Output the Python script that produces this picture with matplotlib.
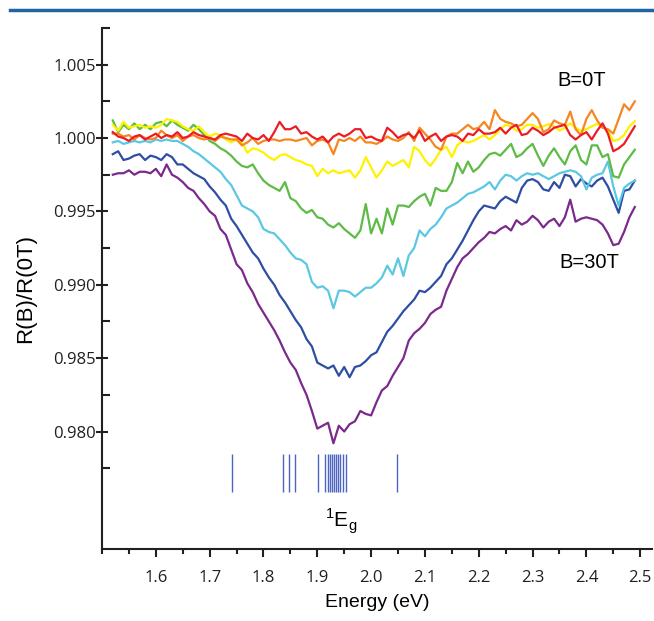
import matplotlib
matplotlib.use("Agg")
import matplotlib.pyplot as plt
from matplotlib.lines import Line2D
from matplotlib.ticker import FixedLocator
import numpy as np

plt.rcParams['mathtext.fontset'] = 'custom'
plt.rcParams['mathtext.rm'] = 'Liberation Sans'

energy = np.round(np.arange(1.52, 2.495, 0.01), 2)

# R(B)/R(0T) - 1, in units of 1e-3
dev_red = [0.4, 0.1, 0.0, -0.2, 0.1, 0.2, -0.1, 0.1, 0.3, 0.0,
           0.2, 0.1, 0.4, 0.0, 0.1, 0.4, 0.2, 0.1, 0.0, -0.1,
           0.2, 0.3, 0.2, 0.1, -0.2, 0.3, 0.0, -0.1, 0.2, -0.2,
           0.4, 1.1, 0.6, 0.6, 0.8, 0.3, 0.4, 0.1, -0.1, 0.1,
           -0.3, 0.1, 0.3, 0.1, 0.3, 0.6, 0.6, 0.0, 0.1, -0.1,
           -0.2, 0.7, 0.4, 0.0, 0.2, 0.3, 0.0, 0.5, -0.2, 0.1,
           0.3, -0.2, 0.1, 0.2, 0.1, -0.2, 0.3, 0.2, 0.6, 0.3,
           0.3, 0.4, 0.7, 0.3, 0.7, 0.9, 0.2, 0.3, 0.7, 0.5,
           0.2, 0.4, 0.7, 0.8, 0.9, 0.2, -0.1, 0.2, 0.4, -0.1,
           0.5, 1.0, 0.3, -0.9, -0.7, -0.4, 0.2, 0.8]
dev_orange = [0.3, 0.3, 0.1, 0.2, -0.1, 0.2, 0.0, -0.1, 0.0, 0.5,
              0.2, 0.0, 0.2, -0.2, 0.1, 0.2, 0.0, -0.1, 0.0, -0.2,
              0.1, 0.0, -0.1, -0.1, -0.5, -0.3, 0.0, -0.4, -0.2, -0.1,
              -0.1, -0.2, -0.1, -0.1, -0.2, -0.1, 0.0, -0.5, -0.2, -0.1,
              -0.3, -1.1, -0.1, -0.2, 0.0, -0.2, 0.1, -0.3, -0.3, -0.4,
              -0.2, 0.1, -0.1, -0.2, 0.0, 0.4, -0.2, 0.7, 0.3, -0.1,
              -0.6, -0.8, 0.1, 0.3, 0.3, 0.6, 0.9, 0.6, 0.7, 1.1,
              0.6, 1.9, 1.3, 1.1, 1.0, 0.8, 0.9, 1.3, 1.7, 1.3,
              0.4, 0.6, 1.2, 1.0, 0.9, 1.8, 0.6, 0.2, 1.3, 1.9,
              1.2, 0.7, 0.6, 0.3, 1.3, 2.3, 1.9, 2.5]
dev_yellow = [0.9, 0.5, 1.1, 0.7, 0.8, 0.9, 0.7, 0.8, 0.7, 0.9,
              1.3, 1.2, 1.1, 0.8, 0.6, 0.5, 0.8, 0.4, 0.1, 0.3,
              0.2, -0.1, -0.3, -0.1, -0.3, -1.0, -0.7, -0.8, -1.0, -1.3,
              -1.5, -1.2, -1.1, -1.3, -1.5, -1.6, -1.8, -1.9, -2.6, -2.1,
              -2.4, -2.2, -2.4, -2.3, -2.2, -2.7, -2.2, -1.3, -2.0, -2.7,
              -2.2, -1.6, -1.9, -1.7, -1.5, -2.0, -0.6, -0.9, -1.5, -1.9,
              -1.4, -0.8, -0.6, -1.3, -0.5, -0.2, -0.3, -0.2, 0.0, 0.2,
              -0.1, 0.2, 0.6, 0.9, 0.8, 0.5, 0.6, 0.9, 0.9, 0.7,
              0.8, 0.95, 0.8, 0.5, 0.7, 1.0, 0.7, 0.5, 0.6, 0.8,
              0.95, 0.8, 0.5, -0.2, -0.1, 0.2, 0.8, 1.15]
dev_green = [1.2, 0.4, 0.9, 0.6, 1.0, 0.6, 0.9, 0.6, 1.0, 1.1,
             0.8, 1.2, 0.9, 0.7, 0.5, 0.9, 0.6, 0.2, -0.2, -0.4,
             -0.7, -0.9, -1.2, -1.6, -1.9, -2.0, -1.8, -2.4, -2.9, -3.2,
             -3.4, -3.6, -3.0, -4.1, -4.3, -4.8, -5.1, -4.9, -5.4, -5.5,
             -5.9, -6.1, -5.8, -6.2, -6.5, -6.8, -6.3, -4.5, -6.5, -5.5,
             -6.5, -4.8, -5.9, -4.6, -4.6, -4.7, -4.3, -4.0, -3.8, -4.6,
             -3.4, -3.6, -3.6, -3.0, -1.7, -2.4, -1.6, -2.3, -2.0, -1.5,
             -1.1, -1.0, -1.2, -0.8, -0.4, -1.3, -1.1, -0.7, -0.4, -1.2,
             -1.9, -1.2, -0.7, -1.3, -1.8, -0.9, -0.5, -1.5, -1.8, -0.5,
             -0.5, -1.3, -1.1, -2.6, -2.7, -1.8, -1.3, -0.8]
dev_cyan = [-0.3, -0.2, -0.4, -0.3, -0.2, -0.3, -0.2, -0.3, -0.1, -0.2,
            -0.1, -0.2, -0.2, -0.4, -0.6, -0.9, -1.1, -1.4, -1.7, -2.0,
            -2.3, -2.8, -3.2, -3.9, -4.6, -4.8, -5.0, -5.4, -6.2, -6.4,
            -6.5, -6.9, -7.3, -7.8, -8.2, -8.3, -8.6, -9.8, -10.2, -10.1,
            -10.4, -11.6, -10.4, -10.4, -10.5, -10.8, -10.5, -10.2, -10.2, -9.9,
            -9.5, -8.7, -9.3, -8.2, -9.4, -8.0, -7.5, -6.3, -6.7, -6.2,
            -5.9, -5.4, -4.8, -4.6, -4.4, -4.1, -3.8, -3.7, -3.5, -3.3,
            -3.0, -3.5, -2.9, -2.5, -2.6, -2.9, -2.6, -2.4, -2.5, -2.4,
            -2.6, -2.8, -2.6, -2.4, -2.3, -2.2, -2.3, -2.6, -3.5, -2.7,
            -2.5, -2.4, -1.6, -3.3, -4.6, -3.4, -3.1, -2.9]
dev_blue = [-1.1, -0.9, -1.5, -1.4, -1.2, -1.1, -1.5, -1.2, -1.3, -1.5,
            -1.1, -1.3, -1.8, -1.8, -2.1, -2.4, -2.6, -2.8, -3.3, -3.7,
            -4.2, -4.6, -5.5, -6.0, -6.6, -7.2, -7.8, -8.2, -8.9, -9.5,
            -10.0, -10.7, -11.2, -11.8, -12.4, -12.9, -13.7, -14.2, -15.3, -15.5,
            -15.7, -15.5, -16.2, -15.6, -16.3, -15.6, -15.5, -15.2, -14.8, -14.6,
            -13.9, -13.2, -12.8, -12.3, -11.8, -11.4, -11.0, -10.4, -10.5, -10.2,
            -9.8, -9.4, -8.6, -8.2, -7.6, -7.0, -6.3, -5.6, -5.0, -4.6,
            -4.7, -4.8, -4.3, -4.0, -4.2, -4.4, -3.4, -2.9, -2.8, -3.0,
            -3.5, -3.6, -3.0, -3.4, -2.5, -2.6, -3.3, -2.8, -3.1, -3.3,
            -2.9, -2.7, -3.3, -4.2, -5.1, -3.6, -3.5, -2.9]
dev_purple = [-2.5, -2.4, -2.4, -2.2, -2.5, -2.3, -2.3, -2.4, -2.1, -2.6,
              -1.8, -2.5, -2.7, -3.0, -3.4, -3.6, -4.1, -4.5, -5.0, -5.3,
              -6.2, -6.6, -7.6, -8.6, -9.0, -9.9, -10.5, -11.3, -11.9, -12.5,
              -13.1, -13.8, -14.6, -15.3, -15.8, -16.7, -17.5, -18.6, -19.8, -19.6,
              -19.4, -20.8, -19.6, -20.0, -19.5, -19.3, -18.6, -18.8, -18.9, -18.0,
              -17.2, -16.9, -16.2, -15.6, -15.0, -13.8, -13.3, -13.0, -12.6, -12.0,
              -11.7, -11.5, -10.4, -9.6, -8.8, -8.2, -7.9, -7.5, -7.1, -6.8,
              -6.4, -6.5, -6.2, -6.0, -6.3, -5.6, -5.9, -5.7, -5.3, -5.6,
              -6.1, -5.7, -5.5, -6.0, -5.4, -4.2, -5.7, -5.5, -5.4, -5.5,
              -5.6, -5.9, -6.5, -7.3, -7.2, -6.4, -5.4, -4.7]

# 1Eg multiplet positions (eV)
eg_lines = [1.742, 1.836, 1.847, 1.858, 1.901, 1.915, 1.919, 1.923, 1.927,
            1.931, 1.935, 1.939, 1.943, 1.947, 1.954, 2.049]

xticks = [1.6, 1.7, 1.8, 1.9, 2.0, 2.1, 2.2, 2.3, 2.4, 2.5]
xtick_labels = ['1.6', '1.7', '1.8', '1.9', '2.0', '2.1', '2.2', '2.3', '2.4', '2.5']
yticks = [0.980, 0.985, 0.990, 0.995, 1.000, 1.005]
ytick_labels = ['0.980', '0.985', '0.990', '0.995', '1.000', '1.005']

series = [dev_purple, dev_blue, dev_cyan, dev_green, dev_yellow, dev_orange, dev_red]
colors = ['#7b2a8c', '#2e4ea3', '#5bc8e3', '#5dbb46', '#fff200', '#f6861f', '#ed1c24']

fig = plt.figure(figsize=(6.54, 6.21), dpi=100)
ax = fig.add_axes([0.156, 0.116, 0.841, 0.839])

for dev, c in zip(series, colors):
    ax.plot(energy, 1 + np.array(dev) / 1000, color=c, lw=1.6)

ax.vlines(eg_lines, 0.9759, 0.9785, color='#4a64c0', lw=1.0)
ax.text(1.945, 0.9739, r'$^1\mathrm{E}_\mathrm{g}$', fontsize=15, ha='center', va='center')
ax.text(2.346, 1.0039, 'B=0T', fontsize=14.5, va='center', family='Liberation Sans')
ax.text(2.350, 0.9915, 'B=30T', fontsize=14.5, va='center', family='Liberation Sans')

ax.set_xlim(1.5, 2.522)
ax.set_ylim(0.972, 1.0075)
ax.set_xticks(xticks)
ax.set_xticklabels(xtick_labels)
ax.xaxis.set_minor_locator(FixedLocator([1.5, 1.55, 1.65, 1.75, 1.85, 1.95, 2.05,
                                         2.15, 2.25, 2.35, 2.45]))
ax.set_yticks(yticks)
ax.set_yticklabels(ytick_labels)
ax.yaxis.set_minor_locator(FixedLocator([0.9775, 0.9825, 0.9875, 0.9925, 0.9975,
                                         1.0025, 1.0075]))

for sp in ['top', 'right']:
    ax.spines[sp].set_visible(False)
for sp in ['left', 'bottom']:
    ax.spines[sp].set_linewidth(1.5)
    ax.spines[sp].set_color('#231f20')
ax.tick_params(which='both', width=1.5, colors='#231f20', labelsize=12)
ax.tick_params(axis='x', which='major', direction='out', length=6, pad=9)
ax.tick_params(axis='x', which='minor', direction='out', length=3.5)
ax.tick_params(axis='y', which='major', direction='inout', length=8, pad=0.5)
ax.tick_params(axis='y', which='minor', direction='in', length=5.5)
for lab in ax.get_xticklabels() + ax.get_yticklabels():
    lab.set_family('Open Sans')

ax.set_xlabel('Energy (eV)', fontsize=14, family='Liberation Sans', labelpad=6)
ax.set_ylabel('R(B)/R(0T)', fontsize=16, family='Liberation Sans', labelpad=12)

# journal header rule
fig.add_artist(Line2D([0.015, 1.0], [0.984, 0.984], color='#1f64a3', lw=2.5))

fig.savefig('out.png', dpi=100)
